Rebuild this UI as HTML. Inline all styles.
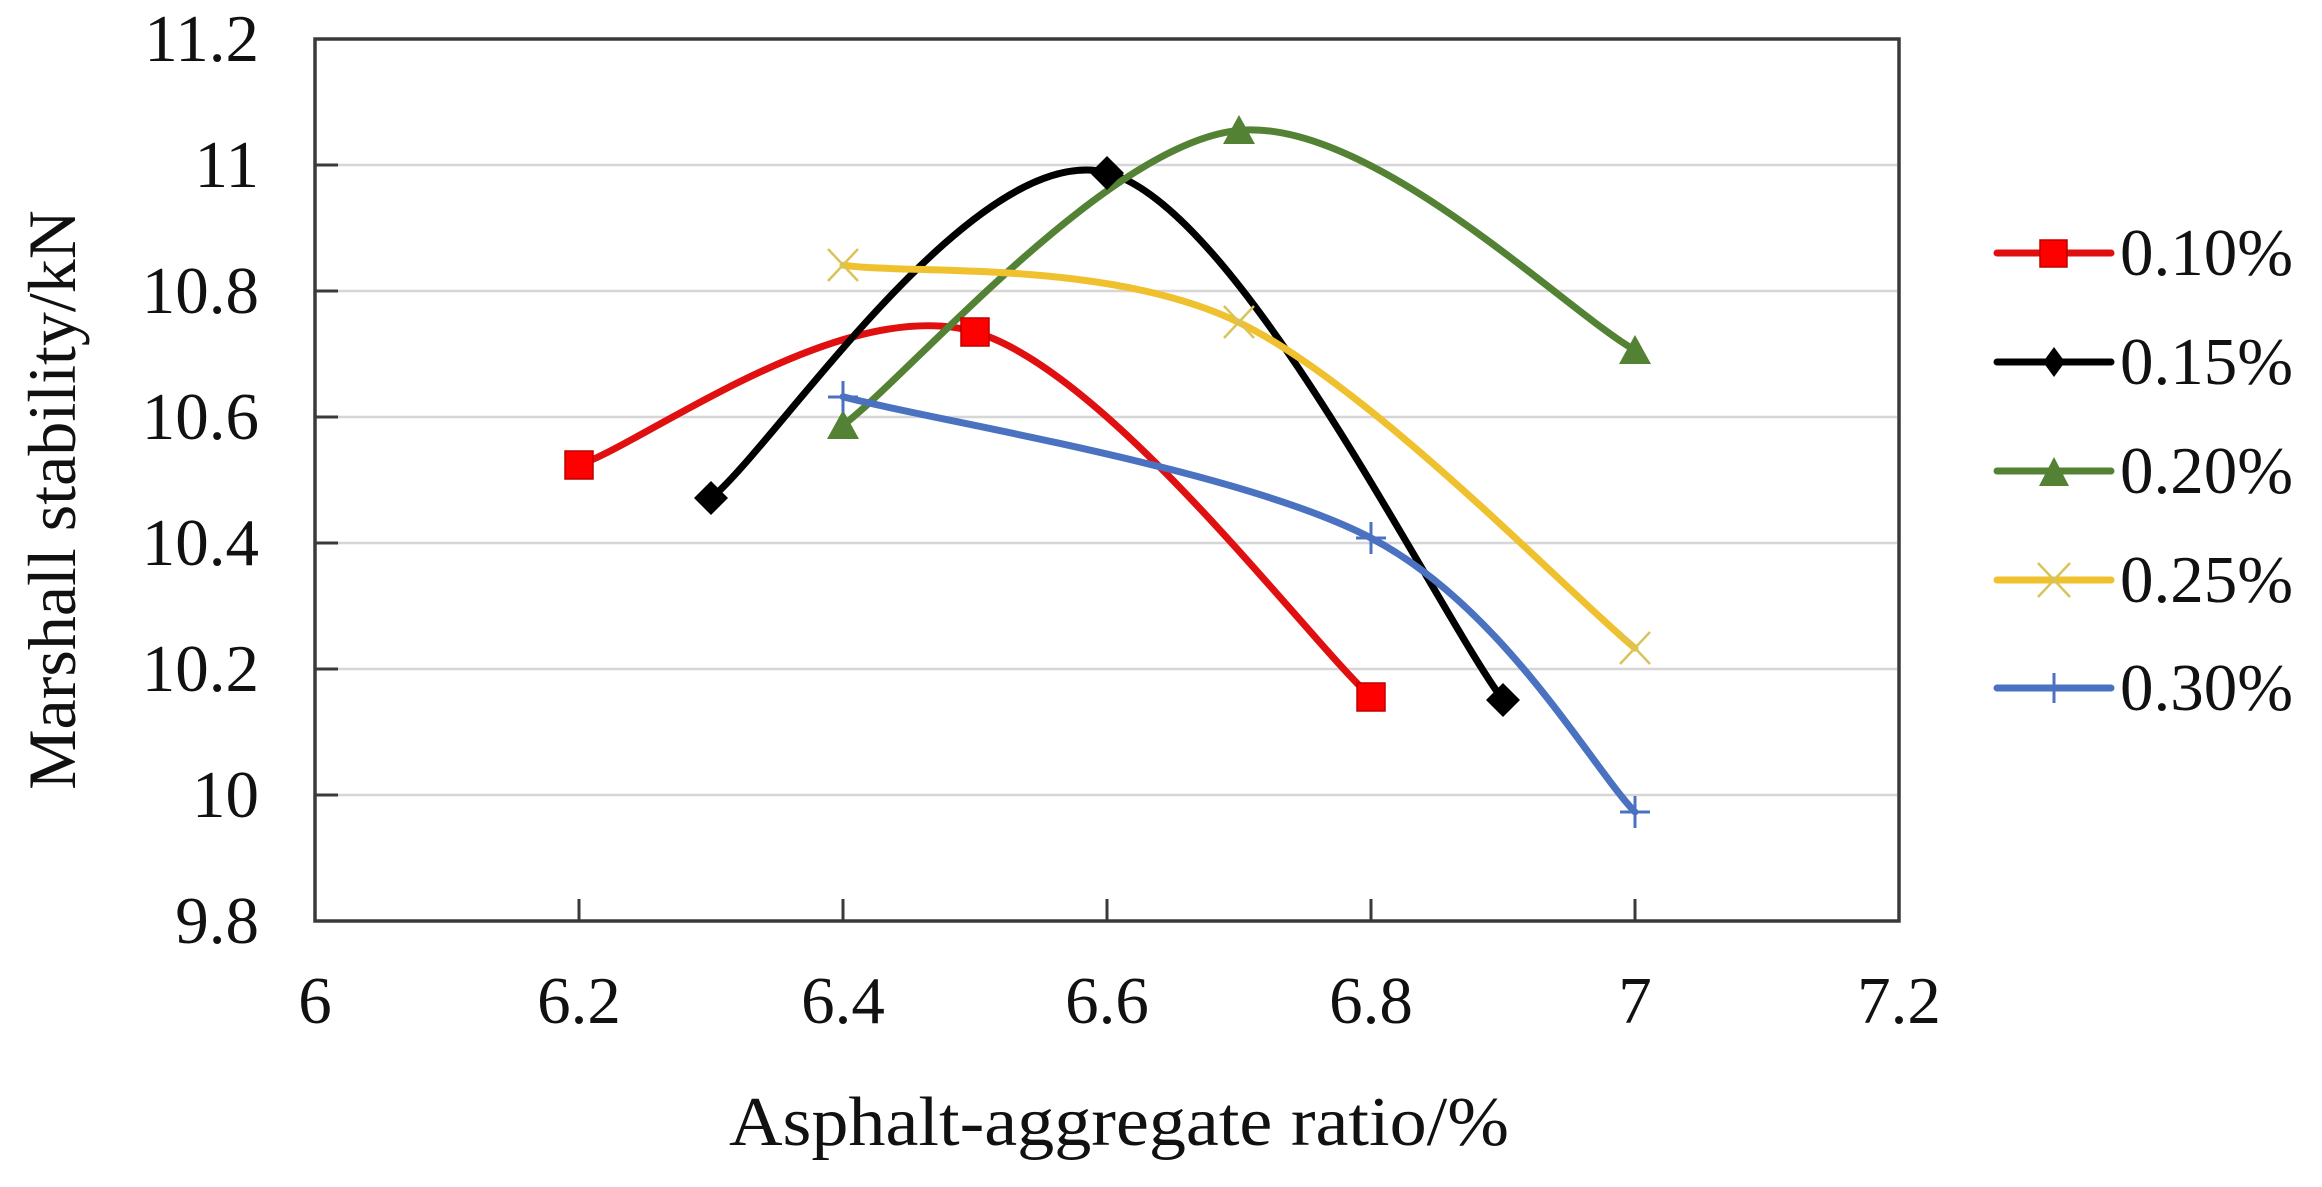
<!DOCTYPE html>
<html>
<head>
<meta charset="utf-8">
<style>
  html,body{margin:0;padding:0;background:#fff;}
  svg{display:block;}
  text{font-family:"Liberation Serif","Times New Roman",serif;fill:#111;}
</style>
</head>
<body>
<svg width="2322" height="1187" viewBox="0 0 2322 1187" xmlns="http://www.w3.org/2000/svg">
  <rect x="0" y="0" width="2322" height="1187" fill="#fff"/>

  <!-- gridlines -->
  <g stroke="#d6d6d6" stroke-width="2.5">
    <line x1="317" y1="165" x2="1897" y2="165"/>
    <line x1="317" y1="291" x2="1897" y2="291"/>
    <line x1="317" y1="417" x2="1897" y2="417"/>
    <line x1="317" y1="543" x2="1897" y2="543"/>
    <line x1="317" y1="669" x2="1897" y2="669"/>
    <line x1="317" y1="795" x2="1897" y2="795"/>
  </g>

  <!-- frame -->
  <rect x="315" y="39" width="1584" height="882" fill="none" stroke="#3a3a3a" stroke-width="3.5"/>

  <!-- ticks -->
  <g stroke="#3a3a3a" stroke-width="3">
    <line x1="315" y1="165" x2="338" y2="165"/>
    <line x1="315" y1="291" x2="338" y2="291"/>
    <line x1="315" y1="417" x2="338" y2="417"/>
    <line x1="315" y1="543" x2="338" y2="543"/>
    <line x1="315" y1="669" x2="338" y2="669"/>
    <line x1="315" y1="795" x2="338" y2="795"/>
    <line x1="579" y1="921" x2="579" y2="899"/>
    <line x1="843" y1="921" x2="843" y2="899"/>
    <line x1="1107" y1="921" x2="1107" y2="899"/>
    <line x1="1371" y1="921" x2="1371" y2="899"/>
    <line x1="1635" y1="921" x2="1635" y2="899"/>
  </g>

  <!-- y tick labels -->
  <g font-size="67" text-anchor="end">
    <text x="259" y="61">11.2</text>
    <text x="259" y="187">11</text>
    <text x="259" y="313">10.8</text>
    <text x="259" y="439">10.6</text>
    <text x="259" y="565">10.4</text>
    <text x="259" y="691">10.2</text>
    <text x="259" y="817">10</text>
    <text x="259" y="943">9.8</text>
  </g>

  <!-- x tick labels -->
  <g font-size="67" text-anchor="middle">
    <text x="315" y="1023">6</text>
    <text x="579" y="1023">6.2</text>
    <text x="843" y="1023">6.4</text>
    <text x="1107" y="1023">6.6</text>
    <text x="1371" y="1023">6.8</text>
    <text x="1635" y="1023">7</text>
    <text x="1899" y="1023">7.2</text>
  </g>

  <!-- axis titles -->
  <text x="729" y="1145" font-size="70" textLength="780" lengthAdjust="spacingAndGlyphs">Asphalt-aggregate ratio/%</text>
  <text x="0" y="0" font-size="68" text-anchor="middle" transform="translate(75,500) rotate(-90)">Marshall stability/kN</text>

  <!-- series curves -->
  <g fill="none" stroke-width="7" stroke-linecap="round" stroke-linejoin="round">
    <path d="M579,465 C645,442.8 843,293.3 975,332 C1107,370.7 1305,636.2 1371,697" stroke="#e01010"/>
    <path d="M711,498.3 C777,444 975,139 1107,172.6 C1239,206.2 1437,612 1503,699.9" stroke="#000000"/>
    <path d="M843,425.2 C909,376.1 1107,142.9 1239,130.4 C1371,117.9 1569,313.6 1635,350.2" stroke="#548235"/>
    <path d="M843,265.2 C909,274.8 1107,258.7 1239,322.5 C1371,386.3 1569,593.9 1635,648.2" stroke="#f0c12e"/>
    <path d="M843,396.8 C931,420.3 1239,468.8 1371,538 C1503,607.2 1591,766.3 1635,812" stroke="#4a72c0"/>
  </g>

  <!-- red squares -->
  <g fill="#ff0000" stroke="#c00000" stroke-width="1.5">
    <rect x="565" y="451" width="28" height="28"/>
    <rect x="961" y="318" width="28" height="28"/>
    <rect x="1357" y="683" width="28" height="28"/>
  </g>
  <!-- black diamonds -->
  <g fill="#000">
    <polygon points="711,481 728,498 711,515 694,498"/>
    <polygon points="1107,156 1124,173 1107,190 1090,173"/>
    <polygon points="1503,683 1520,700 1503,717 1486,700"/>
  </g>
  <!-- green triangles -->
  <g fill="#548235">
    <polygon points="843,410 859,439 827,439"/>
    <polygon points="1239,115 1255,144 1223,144"/>
    <polygon points="1635,335 1651,364 1619,364"/>
  </g>
  <!-- yellow x -->
  <g stroke="#d8c45a" stroke-width="2.5" fill="none">
    <path d="M828,249 L858,281 M858,249 L828,281"/>
    <path d="M1224,306 L1254,338 M1254,306 L1224,338"/>
    <path d="M1620,632 L1650,664 M1650,632 L1620,664"/>
  </g>
  <!-- blue plus -->
  <g stroke="#4a72c0" stroke-width="3" fill="none">
    <path d="M828,397 L858,397 M843,381 L843,413"/>
    <path d="M1356,538 L1386,538 M1371,522 L1371,554"/>
    <path d="M1620,812 L1650,812 M1635,796 L1635,828"/>
  </g>

  <!-- legend -->
  <g stroke-width="7" stroke-linecap="round">
    <line x1="1997" y1="253" x2="2111" y2="253" stroke="#e01010"/>
    <line x1="1997" y1="362" x2="2111" y2="362" stroke="#000"/>
    <line x1="1997" y1="471" x2="2111" y2="471" stroke="#548235"/>
    <line x1="1997" y1="580" x2="2111" y2="580" stroke="#f0c12e"/>
    <line x1="1997" y1="688" x2="2111" y2="688" stroke="#4a72c0"/>
  </g>
  <rect x="2040" y="240" width="27" height="27" fill="#ff0000" stroke="#c00000" stroke-width="1.5"/>
  <polygon points="2054,347 2065,362 2054,377 2043,362" fill="#000"/>
  <polygon points="2054,457 2069,486 2039,486" fill="#548235"/>
  <path d="M2038,563 L2070,597 M2070,563 L2038,597" stroke="#d8c45a" stroke-width="2.5" fill="none"/>
  <path d="M2054,673 L2054,703" stroke="#4a72c0" stroke-width="3" fill="none"/>

  <g font-size="67">
    <text x="2120" y="275">0.10%</text>
    <text x="2120" y="384">0.15%</text>
    <text x="2120" y="493">0.20%</text>
    <text x="2120" y="602">0.25%</text>
    <text x="2120" y="710">0.30%</text>
  </g>
</svg>
</body>
</html>
